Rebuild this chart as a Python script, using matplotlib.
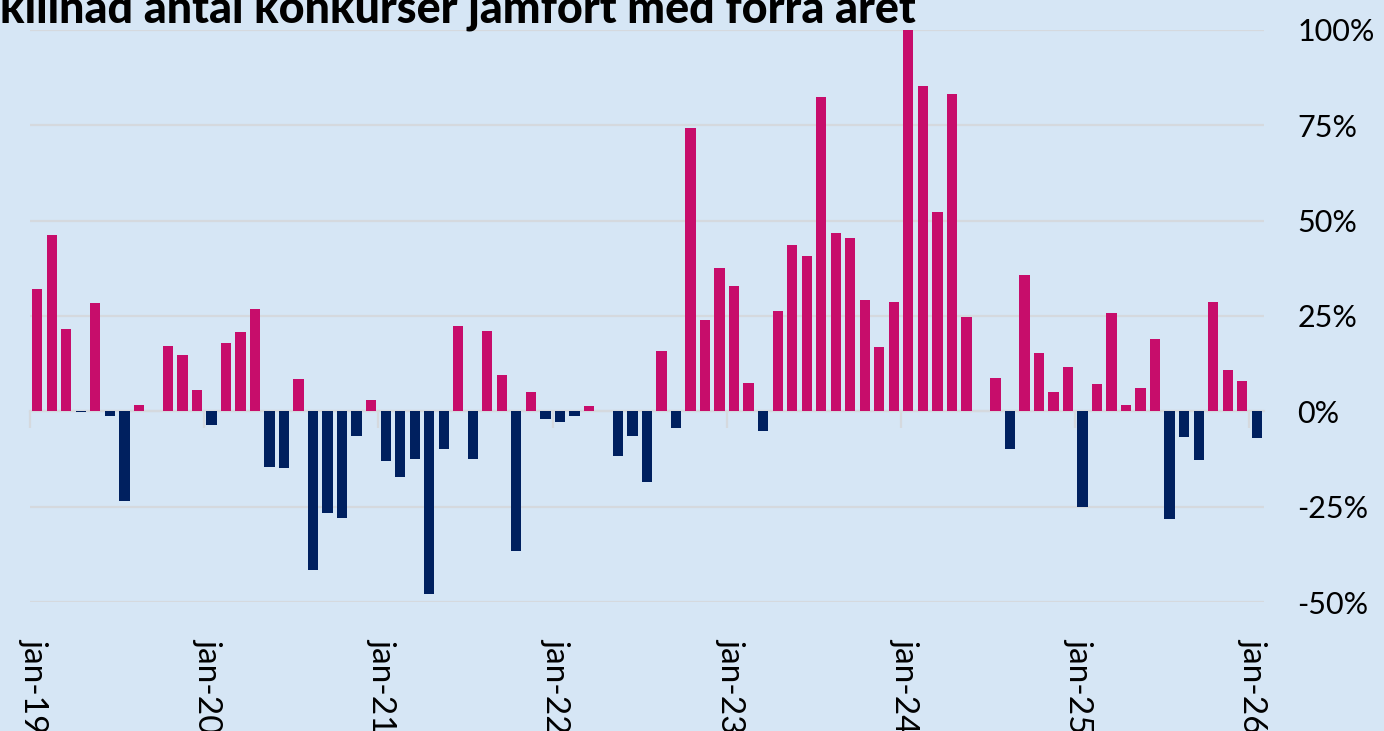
import numpy as np
import matplotlib.pyplot as plt
from matplotlib.transforms import ScaledTranslation

# Förändring i antal konkurser mot samma månad föregående år (%)
change_2019 = [32.0, 46.3, 21.6, -0.3, 28.3, -1.1, -23.5, 1.7, 0.0, 17.1, 14.7, 5.6]
change_2020 = [-3.7, 18.0, 20.7, 26.9, -14.5, -14.8, 8.4, -41.6, -26.6, -27.9, -6.4, 3.1]
change_2021 = [-13.0, -17.1, -12.5, -47.9, -9.9, 22.5, -12.5, 21.0, 9.6, -36.6, 5.1, -2.0]
change_2022 = [-2.7, -1.1, 1.3, 0.0, -11.6, -6.4, -18.5, 15.7, -4.3, 74.2, 24.0, 37.7]
change_2023 = [32.8, 7.3, -5.1, 26.2, 43.5, 40.7, 82.5, 46.8, 45.4, 29.3, 16.8, 28.6]
change_2024 = [100.0, 85.2, 52.3, 83.3, 24.7, 0.2, 8.7, -9.9, 35.7, 15.4, 5.1, 11.6]
change_2025 = [-25.0, 7.1, 25.8, 1.6, 6.2, 18.9, -28.2, -6.6, -12.7, 28.8, 10.8, 8.0]
change_2026 = [-7.0]

year_labels = ["jan-19", "jan-20", "jan-21", "jan-22", "jan-23", "jan-24", "jan-25", "jan-26"]
y_ticks = [-50, -25, 0, 25, 50, 75, 100]

title = "killnad antal konkurser jämfört med förra året"

BG = "#D6E6F5"
PINK = "#C70D6B"
NAVY = "#00205F"
GRID = "#D5D9DE"

values = np.array(change_2019 + change_2020 + change_2021 + change_2022 +
                  change_2023 + change_2024 + change_2025 + change_2026)
x = np.arange(len(values))
colors = [PINK if v >= 0 else NAVY for v in values]

plt.rcParams['font.family'] = ['Lato', 'DejaVu Sans']

fig = plt.figure(figsize=(13.84, 7.31), dpi=100, facecolor=BG)
ax = fig.add_axes([30 / 1384, 129 / 731, 1234 / 1384, 572 / 731])
ax.set_facecolor(BG)

ax.bar(x, values, width=0.71, color=colors, zorder=3)

ax.set_xlim(-0.5, len(values) - 0.5)
ax.set_ylim(-50, 100)

# horisontella stödlinjer
ax.set_yticks(y_ticks)
ax.set_yticklabels([f"{t}%" for t in y_ticks])
ax.grid(axis='y', color=GRID, linewidth=1.6, zorder=0)
ax.yaxis.tick_right()
ax.tick_params(axis='y', length=0, pad=24, labelsize=22, labelcolor='black')
for lab in ax.get_yticklabels():
    lab.set_horizontalalignment('left')

for s in ['top', 'left', 'right']:
    ax.spines[s].set_visible(False)
ax.spines['bottom'].set_position(('data', 0))
ax.spines['bottom'].set_color(GRID)
ax.spines['bottom'].set_linewidth(1.6)
ax.spines['bottom'].set_zorder(2)

boundaries = np.arange(len(year_labels)) * 12 - 0.5
ax.set_xticks(boundaries)
ax.tick_params(axis='x', direction='out', length=12, width=1.6, color=GRID, labelbottom=False)

# årsetiketter längst ner
sec = ax.secondary_xaxis(0)
sec.set_xticks(boundaries)
sec.set_xticklabels(year_labels, rotation=-90, fontsize=24, va='top', ha='center')
sec.tick_params(axis='x', length=0, pad=26)
sec.spines['bottom'].set_visible(False)
shift = ScaledTranslation(4 / 100, 0, fig.dpi_scale_trans)
for lab in sec.get_xticklabels():
    lab.set_transform(lab.get_transform() + shift)

t = fig.text(0.0, 1 - 24 / 731, title, ha='left', va='baseline',
             fontsize=30, fontweight='black', color='black')
fig.canvas.draw()
w = t.get_window_extent().width
t.set_fontsize(30 * 915 / w)

fig.savefig("out.png", dpi=100, facecolor=BG)
